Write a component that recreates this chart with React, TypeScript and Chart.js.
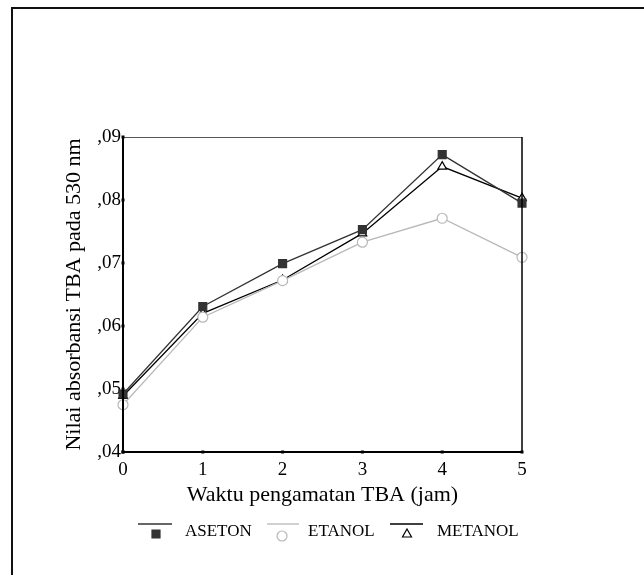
import React, { useEffect, useRef } from "react";
import { Chart, registerables } from "chart.js";

Chart.register(...registerables);

const hours = ["0", "1", "2", "3", "4", "5"];
const seriesNames = ["ASETON", "ETANOL", "METANOL"];
const aseton = [0.0492, 0.0631, 0.0699, 0.0753, 0.0872, 0.0795];
const etanol = [0.0475, 0.0614, 0.0672, 0.0733, 0.0771, 0.0709];
const metanol = [0.0489, 0.062, 0.0673, 0.0747, 0.0853, 0.0803];
const yTickValues = [0.04, 0.05, 0.06, 0.07, 0.08, 0.09];
const yTickLabels = [",04", ",05", ",06", ",07", ",08", ",09"];
const xTitle = "Waktu pengamatan TBA (jam)";
const yTitle = "Nilai absorbansi TBA pada 530 nm";

const FONT = "'Liberation Serif', 'Times New Roman', serif";
const colors = ["#333333", "#b8b8b8", "#000000"];
const styles = ["rect", "circle", "triangle"];
const fills = ["#333333", "#ffffff", "#ffffff"];

const decorPlugin = {
  id: "decor",
  beforeDraw(chart: any) {
    const ctx = chart.ctx;
    ctx.save();
    ctx.fillStyle = "#ffffff";
    ctx.fillRect(0, 0, chart.width, chart.height);
    // outer frame (left & top)
    ctx.strokeStyle = "#111";
    ctx.lineWidth = 2;
    ctx.beginPath();
    ctx.moveTo(12, chart.height + 5);
    ctx.lineTo(12, 8);
    ctx.lineTo(chart.width + 5, 8);
    ctx.stroke();
    ctx.restore();
  },
  afterDatasetsDraw(chart: any) {
    const ctx = chart.ctx;
    const { left, right, top, bottom } = chart.chartArea;
    ctx.save();
    // top and right border
    ctx.strokeStyle = "#555";
    ctx.lineWidth = 1;
    ctx.beginPath();
    ctx.moveTo(left, top + 0.5);
    ctx.lineTo(right, top + 0.5);
    ctx.stroke();
    ctx.strokeStyle = "#000";
    ctx.lineWidth = 1.5;
    ctx.beginPath();
    ctx.moveTo(right, top);
    ctx.lineTo(right, bottom);
    ctx.stroke();
    // left and bottom axis
    ctx.lineWidth = 2;
    ctx.beginPath();
    ctx.moveTo(left, top);
    ctx.lineTo(left, bottom);
    ctx.lineTo(right, bottom);
    ctx.stroke();
    // tick dots
    ctx.fillStyle = "#000";
    const xs = chart.scales.x;
    const ys = chart.scales.y;
    xs.ticks.forEach((_t: any, i: number) => {
      const px = xs.getPixelForTick(i);
      ctx.fillRect(px - 1.5, bottom - 1.5, 3, 3);
    });
    ys.ticks.forEach((_t: any, i: number) => {
      const py = ys.getPixelForTick(i);
      ctx.fillRect(left - 1.5, py - 1.5, 3, 3);
    });
    ctx.restore();
  },
  afterDraw(chart: any) {
    const ctx = chart.ctx;
    ctx.save();
    const items = [
      { lx0: 138, lx1: 172, mx: 156, my: 534, tx: 185 },
      { lx0: 267, lx1: 299, mx: 282, my: 536, tx: 308 },
      { lx0: 390, lx1: 423, mx: 407, my: 534, tx: 437 },
    ];
    const ly = 524;
    items.forEach((it, i) => {
      ctx.strokeStyle = colors[i];
      ctx.lineWidth = 1.3;
      ctx.beginPath();
      ctx.moveTo(it.lx0, ly);
      ctx.lineTo(it.lx1, ly);
      ctx.stroke();
      ctx.fillStyle = fills[i];
      ctx.strokeStyle = colors[i];
      ctx.lineWidth = 1.2;
      ctx.beginPath();
      if (i === 0) {
        ctx.rect(it.mx - 4, it.my - 4, 8, 8);
      } else if (i === 1) {
        ctx.arc(it.mx, it.my, 5, 0, Math.PI * 2);
      } else {
        ctx.moveTo(it.mx, it.my - 5);
        ctx.lineTo(it.mx + 4.5, it.my + 3);
        ctx.lineTo(it.mx - 4.5, it.my + 3);
        ctx.closePath();
      }
      ctx.fill();
      ctx.stroke();
      ctx.fillStyle = "#000";
      ctx.font = `17px ${FONT}`;
      ctx.textAlign = "left";
      ctx.textBaseline = "middle";
      ctx.fillText(seriesNames[i], it.tx, 532);
    });
    ctx.restore();
  },
};

export default function App() {
  const ref = useRef<HTMLCanvasElement | null>(null);
  useEffect(() => {
    if (!ref.current) return;
    const data = [aseton, etanol, metanol];
    const chart = new Chart(ref.current, {
      type: "line",
      data: {
        labels: hours,
        datasets: seriesNames.map((name, i) => ({
          label: name,
          data: data[i],
          borderColor: colors[i],
          backgroundColor: fills[i],
          borderWidth: 1.3,
          pointStyle: styles[i] as any,
          pointRadius: i === 0 ? 5.6 : 5,
          pointBorderColor: colors[i],
          pointBackgroundColor: fills[i],
          pointBorderWidth: 1.2,
          tension: 0,
          fill: false,
        })),
      },
      options: {
        responsive: false,
        animation: false,
        devicePixelRatio: 1,
        layout: { padding: { left: 57, top: 137, right: 122, bottom: 63 } },
        plugins: {
          legend: { display: false },
          tooltip: { enabled: false },
        },
        scales: {
          x: {
            type: "category",
            offset: false,
            grid: { display: false, drawTicks: false },
            border: { display: false },
            ticks: {
              color: "#000",
              font: { family: FONT, size: 19 },
              padding: 7,
              maxRotation: 0,
            },
            title: {
              display: true,
              text: xTitle,
              color: "#000",
              font: { family: FONT, size: 22 },
              padding: { top: 0, bottom: 4 },
            },
            afterFit(scale: any) {
              scale.height = 60;
            },
          },
          y: {
            type: "linear",
            min: 0.04,
            max: 0.09,
            grid: { display: false, drawTicks: false },
            border: { display: false },
            afterBuildTicks(scale: any) {
              scale.ticks = yTickValues.map((v) => ({ value: v }));
            },
            ticks: {
              color: "#000",
              font: { family: FONT, size: 19 },
              padding: 2,
              callback: (v: any) => {
                const idx = yTickValues.findIndex((t) => Math.abs(t - Number(v)) < 1e-9);
                return idx >= 0 ? yTickLabels[idx] : "";
              },
            },
            title: {
              display: true,
              text: yTitle,
              color: "#000",
              font: { family: FONT, size: 22 },
              padding: { top: 4, bottom: 0 },
            },
            afterFit(scale: any) {
              scale.width = 66;
            },
          },
        },
      },
      plugins: [decorPlugin],
    });
    return () => chart.destroy();
  }, []);
  return (
    <div style={{ position: "absolute", left: 0, top: 0, width: 644, height: 575 }}>
      <canvas ref={ref} width={644} height={575} style={{ display: "block" }} />
    </div>
  );
}
